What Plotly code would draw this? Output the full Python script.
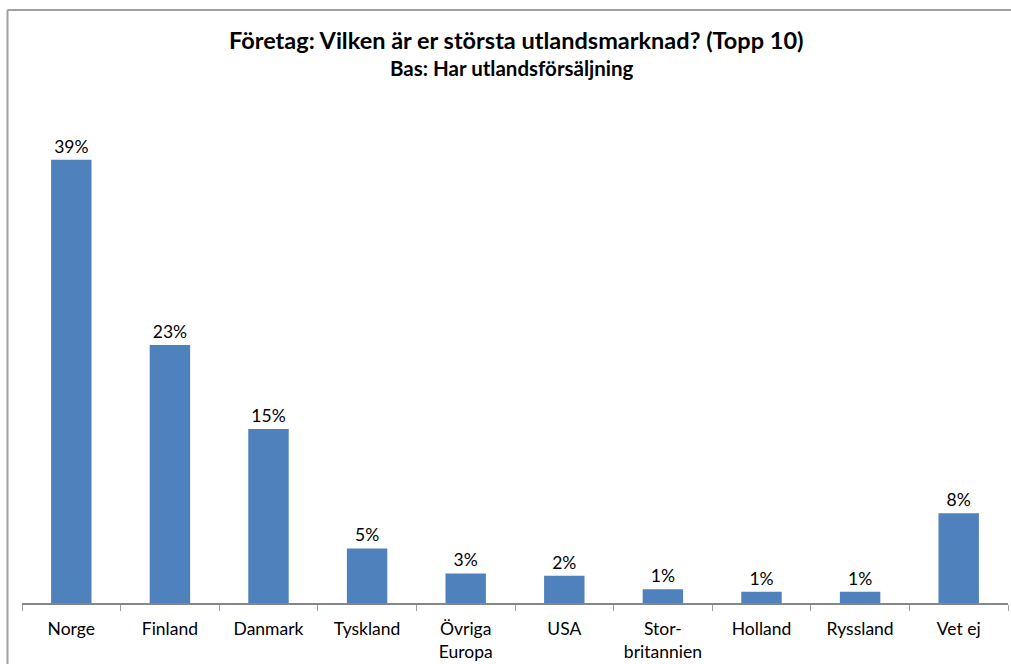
import plotly.graph_objects as go

categories = ["Norge", "Finland", "Danmark", "Tyskland", "Övriga<br>Europa", "USA",
              "Stor-<br>britannien", "Holland", "Ryssland", "Vet ej"]
values = [39.0, 22.7, 15.3, 4.8, 2.6, 2.4, 1.2, 1.0, 1.0, 7.9]
labels = ["39%", "23%", "15%", "5%", "3%", "2%", "1%", "1%", "1%", "8%"]

W, H = 1011, 664
ml, mr, mt, mb = 22, 3, 120, 61

fig = go.Figure(go.Bar(
    x=categories, y=values, text=labels, textposition="outside",
    textfont=dict(size=17.5, color="#000000", family="Lato"),
    marker=dict(color="#4F81BD", line=dict(width=0)),
    cliponaxis=False,
))

pw = W - ml - mr
ph = H - mt - mb

def px_x(p):
    return (p - ml) / pw

def px_y(p):
    return (H - mb - p) / ph

border = dict(color="#A0A0A0", width=2)

fig.update_layout(
    width=W, height=H,
    margin=dict(l=ml, r=mr, t=mt, b=mb),
    paper_bgcolor="white", plot_bgcolor="white",
    bargap=0.59,
    showlegend=False,
    font=dict(family="Lato", size=17.5, color="#000000"),
    xaxis=dict(
        showline=True, linecolor="#868686", linewidth=1.5,
        ticks="outside", tickson="boundaries", ticklen=6, tickcolor="#A0A0A0",
        tickfont=dict(size=17.5, family="Lato", color="#000000"),
        ticklabelstandoff=9,
        showgrid=False,
    ),
    yaxis=dict(range=[0, 42.5], visible=False, showgrid=False),
    annotations=[
        dict(text="<b>Företag: Vilken är er största utlandsmarknad? (Topp 10)</b>",
             xref="paper", yref="paper", x=px_x(516), y=px_y(40),
             xanchor="center", yanchor="middle", showarrow=False,
             font=dict(size=23.5, family="Lato", color="#000000")),
        dict(text="<b>Bas: Har utlandsförsäljning</b>",
             xref="paper", yref="paper", x=px_x(512), y=px_y(68),
             xanchor="center", yanchor="middle", showarrow=False,
             font=dict(size=20.5, family="Lato", color="#000000")),
    ],
    shapes=[
        dict(type="line", xref="paper", yref="paper",
             x0=px_x(7.5), x1=px_x(1012), y0=px_y(10), y1=px_y(10),
             line=border, layer="below"),
        dict(type="line", xref="paper", yref="paper",
             x0=px_x(7.5), x1=px_x(7.5), y0=px_y(10), y1=px_y(665),
             line=border, layer="below"),
    ],
)

fig.write_html("out.html",
               config={"displayModeBar": False},
               post_script="document.body.style.margin='0';document.body.style.overflow='hidden';")
